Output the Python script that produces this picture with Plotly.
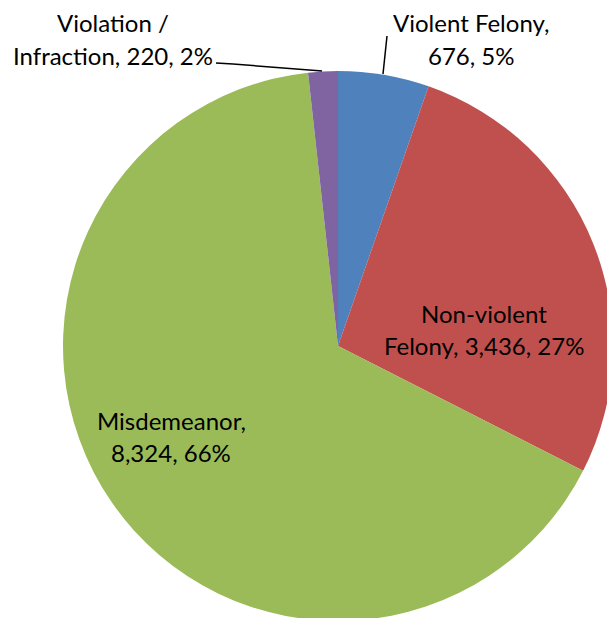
import plotly.graph_objects as go

W, H = 640, 640  # figure larger than the 607x618 window; overflow is hidden so the pie clips like the reference

categories = ["Violent Felony", "Non-violent Felony", "Misdemeanor", "Violation / Infraction"]
values = [676, 3436, 8324, 220]
colors = ["#4F81BD", "#C0504D", "#9BBB59", "#8064A2"]
break_after_words = [2, 1, 1, 2]

# label centre positions in pixels (x, y of first line) measured from top-left
label_px = [(471, 23), (484, 313), (171, 420), (113, 23)]
line_gap = 32

# pie centre and radius in pixels
cx, cy, r = 338, 346, 275

total = sum(values)

fig = go.Figure(go.Pie(
    labels=categories,
    values=values,
    marker=dict(colors=colors, line=dict(width=0)),
    sort=False,
    direction="clockwise",
    rotation=0,
    textinfo="none",
    hoverinfo="label+value+percent",
    showlegend=False,
    domain=dict(x=[(cx - r) / W, (cx + r) / W], y=[1 - (cy + r) / H, 1 - (cy - r) / H]),
))

annotations = []
for cat, val, brk, (px, py) in zip(categories, values, break_after_words, label_px):
    pct = round(val / total * 100)
    words = f"{cat}, {val:,}, {pct}%".split(" ")
    lines = [" ".join(words[:brk]), " ".join(words[brk:])]
    for i, ln in enumerate(lines):
        annotations.append(dict(
            x=px / W, y=1 - (py + i * line_gap) / H,
            xref="paper", yref="paper",
            text=ln, showarrow=False,
            xanchor="center", yanchor="middle",
            font=dict(family="Lato, Carlito, Calibri, sans-serif", size=24, color="#000000"),
        ))

shapes = [
    dict(type="line", xref="paper", yref="paper",
         x0=216 / W, y0=1 - 63 / H, x1=233 / W, y1=1 - 64 / H,
         line=dict(color="#000000", width=1.5)),
    dict(type="line", xref="paper", yref="paper",
         x0=233 / W, y0=1 - 64 / H, x1=322 / W, y1=1 - 71 / H,
         line=dict(color="#000000", width=1.5)),
    dict(type="line", xref="paper", yref="paper",
         x0=387 / W, y0=1 - 36 / H, x1=383 / W, y1=1 - 74 / H,
         line=dict(color="#000000", width=1.5)),
]

fig.update_layout(
    width=W, height=H,
    margin=dict(l=0, r=0, t=0, b=0),
    paper_bgcolor="#FFFFFF",
    plot_bgcolor="#FFFFFF",
    annotations=annotations,
    shapes=shapes,
)

fig.write_html(
    "out.html",
    config={"displayModeBar": False},
    post_script="document.body.style.margin='0';document.body.style.overflow='hidden';",
)
